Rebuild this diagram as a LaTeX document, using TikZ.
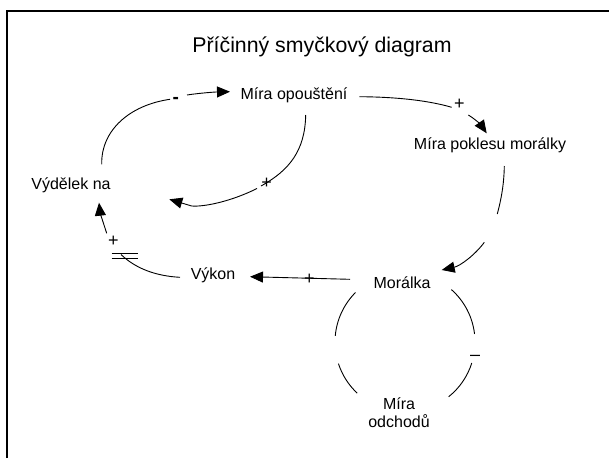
\documentclass[tikz,border=0pt]{standalone}
\usepackage{fontspec}
\setmainfont{Liberation Sans}
\usetikzlibrary{arrows.meta}
\begin{document}
\begin{tikzpicture}[x=1pt,y=-1pt,
  lbl/.style={font=\fontsize{16}{18}\selectfont, inner sep=0pt, align=center},
  sgn/.style={font=\fontsize{18}{20}\selectfont, inner sep=0pt},
  link/.style={line width=0.9pt},
  tip/.style={link, -{Triangle[length=13pt,width=11pt]}},
]
\useasboundingbox (0,0) rectangle (609,458);
% frame
\draw[line width=1.7pt] (7,458) -- (7,11) -- (609,11);

% title and variables
\node[font=\fontsize{21.3}{24}\selectfont, inner sep=0pt] (title) at (322,47) {Příčinný smyčkový diagram};
\node[lbl] (opust) at (294,95) {Míra opouštění};
\node[lbl] (pokles) at (490,145) {Míra poklesu morálky};
\node[lbl] (vydelek) at (71,185) {Výdělek na};
\node[lbl] (vykon) at (213,275) {Výkon};
\node[lbl] (moralka) at (402,283) {Morálka};
\node[lbl] (odchody) at (399,413) {Míra\\odchodů};

% link end points
\coordinate (v1) at (101.7,164.3);
\coordinate (v2) at (170,99.3);
\coordinate (v3) at (187,95);
\coordinate (v4) at (230,91.7);
\coordinate (o1) at (305.7,115);
\coordinate (o2) at (261,186);
\coordinate (o3) at (257,188.5);
\coordinate (o4) at (191.7,206);
\coordinate (o5) at (169.3,199.3);
\coordinate (p1) at (359.3,96.7);
\coordinate (p2) at (451.7,107.3);
\coordinate (p3) at (468.3,115);
\coordinate (p4) at (486.7,133.3);
\coordinate (m1) at (504.3,166);
\coordinate (m2) at (497.3,214);
\coordinate (m3) at (484.3,242.3);
\coordinate (m4) at (441.7,270);
\coordinate (k1) at (350,279.3);
\coordinate (k2) at (250,276.7);
\coordinate (w1) at (180,277.3);
\coordinate (w2) at (121,254.5);
\coordinate (w3) at (106.7,233.3);
\coordinate (w4) at (99,202.7);
\coordinate (c) at (405,342);

% Vydelek -> Mira opousteni (-)
\draw[link] (v1) .. controls (101,130) and (130,105) .. (v2);
\node[font=\fontsize{19}{20}\selectfont\bfseries, inner sep=0pt] (s1) at (175.7,100) {-};
\draw[tip] (v3) .. controls (200,93) and (215,92) .. (v4);

% Mira opousteni -> Vydelek (+)
\draw[link] (o1) .. controls (305,150) and (290,170) .. (o2);
\node[sgn] (s2) at (266.7,183.3) {+};
\draw[tip] (o3) .. controls (232,201) and (205,207) .. (o4) -- (o5);

% Mira opousteni -> Mira poklesu moralky (+)
\draw[link] (p1) .. controls (400,97) and (430,101) .. (p2);
\node[sgn] (s3) at (459.3,104) {+};
\draw[tip] (p3) .. controls (475,119) and (481,125) .. (p4);

% Mira poklesu moralky -> Moralka
\draw[link] (m1) .. controls (504,185) and (501,200) .. (m2);
\draw[tip] (m3) .. controls (475,255) and (460,266) .. (m4);

% Moralka -> Vykon (+)
\draw[tip] (k1) -- (k2);
\node[sgn] (s4) at (309.3,279) {+};

% Vykon -> Vydelek (+), with delay mark
\draw[link] (w1) .. controls (155,276) and (135,268) .. (w2);
\draw[link] (111.7,253.3) -- (138.3,253.3);
\draw[link] (111.7,258.3) -- (138.3,258.3);
\node[sgn] (s5) at (113.3,241.7) {+};
\draw[tip] (w3) .. controls (103,222) and (100,212) .. (w4);

% Moralka <-> Mira odchodu loop (y axis points down, so angles run clockwise)
\draw[link] (c) ++(-135:70) arc[start angle=-135, end angle=-175, radius=70];
\draw[link] (c) ++(-198:70) arc[start angle=-198, end angle=-227, radius=70];
\draw[link] (c) ++(-48.5:70) arc[start angle=-48.5, end angle=-6.6, radius=70];
\draw[link] (c) ++(17.4:70) arc[start angle=17.4, end angle=51.4, radius=70];
\node[sgn] (s6) at (475,358) {–};
\end{tikzpicture}
\end{document}
